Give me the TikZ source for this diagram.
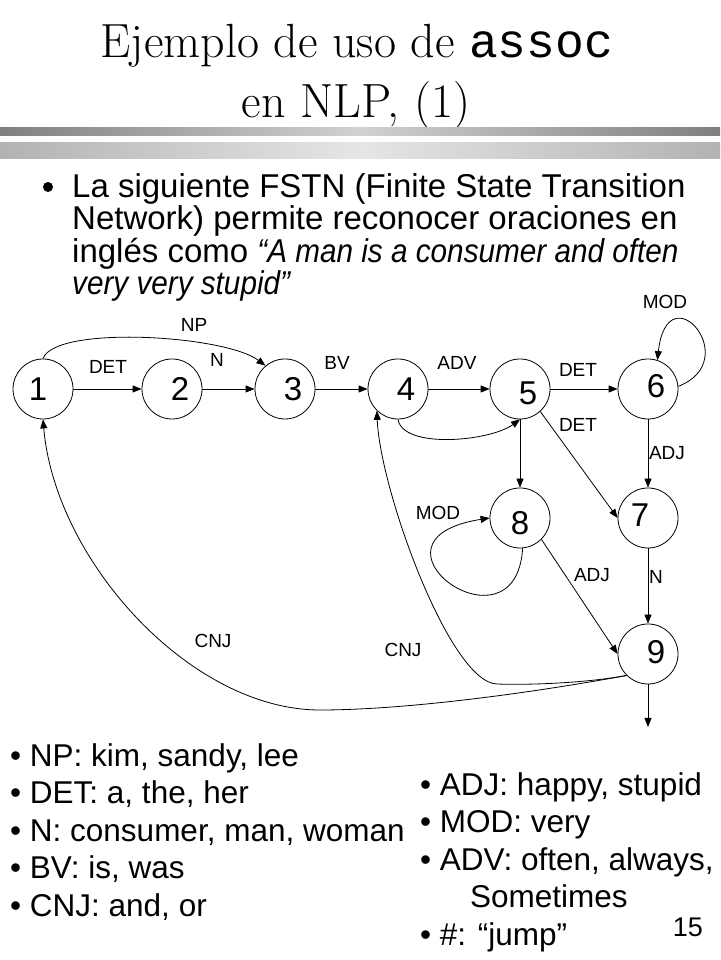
\documentclass[tikz,border=0pt]{standalone}
\usepackage{fontspec}
\setsansfont{Liberation Sans}
\newfontfamily\codefont{Liberation Mono}
\newfontfamily\quotefont[FakeStretch=0.9]{Liberation Sans}
\usetikzlibrary{positioning,calc,arrows.meta}
\tikzset{
state/.style={circle,draw,minimum size=60pt,inner sep=0pt,line width=0.8pt},
digit/.style={font=\fontsize{33}{33}\selectfont\sffamily,inner sep=0pt},
lab/.style={font=\fontsize{19}{19}\selectfont\sffamily,inner sep=0pt},
arc/.style={-{Triangle[length=9pt,width=7pt]},line width=0.8pt},
heading/.style={font=\fontsize{48}{48}\selectfont,inner sep=0pt,anchor=base},
body/.style={font=\fontsize{33}{32.5}\selectfont\sffamily,inner sep=0pt,align=left,anchor=north west},
lists/.style={font=\fontsize{31.5}{37.5}\selectfont\sffamily,inner sep=0pt,align=left,anchor=north west},
}

\begin{document}
\begin{tikzpicture}[x=1pt,y=1pt]
    \useasboundingbox[fill=white] (0,0) rectangle (720,960);
    % title and bars
    \node[heading] (t1) at (357,902) {Ejemplo de uso de {\codefont assoc}};
    \node[heading] (t2) at (356,842) {en NLP, (1)};
    \shade[left color=black!50,right color=black!50,middle color=black!18] (0,824) rectangle (720,832);
    \shade[left color=black!30,right color=black!30,middle color=black!10] (0,801) rectangle (720,817);
    % text
    \node[circle,fill,inner sep=0pt,minimum size=10pt] (bul) at (48,773) {};
    \node[body] (intro) at (72,787) {La siguiente FSTN (Finite State Transition\\
        Network) permite reconocer oraciones en\\
        inglés como {\quotefont\itshape “A man is a consumer and often}\\
        {\quotefont\itshape very very stupid”}};
    % states
    \foreach \n/\x/\y/\dx/\dy in {1/43/571/-5/0, 2/172/571/8/0, 3/285/571/8/0,
        4/398/571/8/0, 5/520/571/8/-4, 6/648/571/8/3, 7/648/442/-8/3,
        8/520/442/0/-5, 9/648/306/8/2}
    {
        \node[state,label={[digit,xshift=\dx pt,yshift=\dy pt]center:\n}] (s\n) at (\x,\y) {};
    }
    \foreach \a/\b in {1/2, 2/3, 3/4, 4/5, 5/6, 5/8, 6/7, 7/9}
        \draw[arc] (s\a) -- (s\b);
    \draw[arc] (s1.north) .. controls (55,635) and (225,625) .. (s3.130);
    \draw[arc] (s6.5) .. controls +(67,26) and +(10,90) .. (s6.72);
    \draw[arc] (s4.south) .. controls +(5,-30) and +(-30,-22) .. (s5.south);
    \draw[arc] (s5.-48) -- (s7.west);
    \draw[arc] (s8.-45) -- (s9.west);
    \draw[arc] (s8.-85) .. controls +(-7,-112) and +(-140,-22) .. (s8.west);
    \draw[arc] (s9.225) .. controls (520,265) and (400,250) .. (320,250)
        .. controls (190,250) and (55,400) .. (s1.south);
    \draw[arc] (s9.225) .. controls (580,276) and (520,275) .. (497,276)
        .. controls (450,277) and (380,470) .. (s4.226);
    \coordinate (fin) at (648,233);
    \draw[arc] (s9) -- (fin);
    % labels
    \foreach \n/\x/\y/\t in {NP/194/635/NP, DETa/108/593/DET, Na/217/600/N,
        BV/337/597/BV, ADV/457/597/ADV, DETb/578/590/DET, DETc/578/535/DET,
        MODa/665/658/MOD, ADJa/667/507/ADJ, MODb/438/447/MOD, ADJb/592/385/ADJ,
        Nb/656/383/N, CNJa/213/319/CNJ, CNJb/403/310/CNJ}
        \node[lab] (l\n) at (\x,\y) {\t};
    % lists
    \node[lists] (left) at (10,217) {• NP: kim, sandy, lee\\
        • DET: a, the, her\\
        • N: consumer, man, woman\\
        • BV: is, was\\
        • CNJ: and, or};
    \node[lists] (right) at (420,188) {• ADJ: happy,  stupid\\
        • MOD: very\\
        • ADV: often, always,\\
        \hspace*{50pt}Sometimes\\
        • \#: “jump”};
    \node[font=\fontsize{27}{27}\selectfont\sffamily,inner sep=0pt,anchor=base east] (page) at (703,23) {15};
\end{tikzpicture}
\end{document}
